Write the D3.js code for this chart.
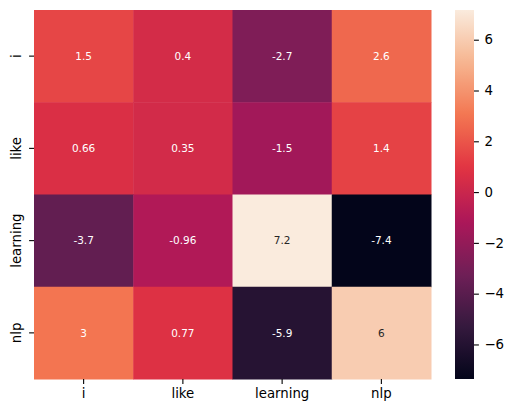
<!DOCTYPE html>
<html>
<head>
<meta charset="utf-8">
<script src="https://cdn.jsdelivr.net/npm/d3@7"></script>
<style>
  body { margin: 0; background: #fff; }
  svg { display: block; font-family: "DejaVu Sans", sans-serif; }
</style>
</head>
<body>
<div id="chart"></div>
<script>
// row / column labels
var rows = ["i", "like", "learning", "nlp"];
var cols = ["i", "like", "learning", "nlp"];
// cell values, one array per row
var rowI = [1.52, 0.40, -2.7, 2.6];
var rowLike = [0.66, 0.35, -1.5, 1.4];
var rowLearning = [-3.7, -0.96, 7.17, -7.36];
var rowNlp = [3.0, 0.77, -5.9, 6.0];
var colorbarTicks = [-6, -4, -2, 0, 2, 4, 6];

// seaborn "rocket" key colours
var rocketStops = ["#03051a", "#35193e", "#701f57", "#ad1759", "#e13342", "#f37651", "#f6b48f", "#faebdd"];

var values = [rowI, rowLike, rowLearning, rowNlp];
var cells = [];
values.forEach(function (r, i) {
  r.forEach(function (v, j) {
    cells.push({ row: rows[i], col: cols[j], value: v });
  });
});

var width = 514, height = 413;
var plot = { left: 34, top: 10, right: 431, bottom: 379 };
var cbar = { left: 455, right: 474 };

var vmin = d3.min(cells, function (d) { return d.value; });
var vmax = d3.max(cells, function (d) { return d.value; });

var rocket = d3.scaleLinear()
  .domain(d3.range(rocketStops.length).map(function (i) { return i / (rocketStops.length - 1); }))
  .range(rocketStops)
  .interpolate(d3.interpolateRgb);
var norm = d3.scaleLinear().domain([vmin, vmax]).range([0, 1]).clamp(true);
var color = function (v) { return rocket(norm(v)); };

var x = d3.scaleBand().domain(cols).range([plot.left, plot.right]);
var y = d3.scaleBand().domain(rows).range([plot.top, plot.bottom]);
var cy = d3.scaleLinear().domain([vmin, vmax]).range([plot.bottom, plot.top]);

var fmt = d3.formatLocale({ decimal: ".", thousands: ",", grouping: [3], currency: ["", ""], minus: "-" }).format(".2~g");

var luminance = function (c) {
  var rgb = d3.rgb(c);
  var lin = [rgb.r, rgb.g, rgb.b].map(function (u) {
    u = u / 255;
    return u <= 0.03928 ? u / 12.92 : Math.pow((u + 0.055) / 1.055, 2.4);
  });
  return 0.2126 * lin[0] + 0.7152 * lin[1] + 0.0722 * lin[2];
};

var svg = d3.select("#chart").append("svg")
  .attr("width", width)
  .attr("height", height);

// cells
svg.append("g")
  .selectAll("rect")
  .data(cells)
  .enter()
  .append("rect")
  .attr("x", function (d) { return x(d.col); })
  .attr("y", function (d) { return y(d.row); })
  .attr("width", x.bandwidth() + 0.5)
  .attr("height", y.bandwidth() + 0.5)
  .attr("fill", function (d) { return color(d.value); });

// annotations
svg.append("g")
  .selectAll("text")
  .data(cells)
  .enter()
  .append("text")
  .attr("x", function (d) { return x(d.col) + x.bandwidth() / 2; })
  .attr("y", function (d) { return y(d.row) + y.bandwidth() / 2; })
  .attr("dy", "0.36em")
  .attr("text-anchor", "middle")
  .attr("font-size", "10.5px")
  .attr("fill", function (d) { return luminance(color(d.value)) > 0.408 ? "#262626" : "#ffffff"; })
  .text(function (d) { return fmt(d.value); });

// x axis
var xAxis = svg.append("g")
  .attr("transform", "translate(0," + plot.bottom + ")")
  .call(d3.axisBottom(x).tickSize(4.9).tickPadding(4.5));
xAxis.select(".domain").remove();
xAxis.selectAll("line").attr("stroke", "#000").attr("stroke-width", 1.1);
xAxis.selectAll("text")
  .attr("font-family", "DejaVu Sans")
  .attr("font-size", "13.3px")
  .attr("fill", "#000");

// y axis (labels rotated like seaborn)
var yAxis = svg.append("g")
  .attr("transform", "translate(" + plot.left + ",0)")
  .call(d3.axisLeft(y).tickSize(4.9));
yAxis.select(".domain").remove();
yAxis.selectAll("line").attr("stroke", "#000").attr("stroke-width", 1.1);
yAxis.selectAll("text")
  .attr("x", null)
  .attr("dy", null)
  .attr("text-anchor", "middle")
  .attr("transform", "translate(-13,0) rotate(-90)")
  .attr("font-family", "DejaVu Sans")
  .attr("font-size", "13.3px")
  .attr("fill", "#000");

// colorbar
var grad = svg.append("defs").append("linearGradient")
  .attr("id", "cbar-grad")
  .attr("x1", 0).attr("y1", 1).attr("x2", 0).attr("y2", 0);
grad.selectAll("stop")
  .data(d3.range(0, 1.0001, 0.02))
  .enter()
  .append("stop")
  .attr("offset", function (t) { return t; })
  .attr("stop-color", function (t) { return rocket(t); });

svg.append("rect")
  .attr("x", cbar.left)
  .attr("y", plot.top)
  .attr("width", cbar.right - cbar.left)
  .attr("height", plot.bottom - plot.top)
  .attr("fill", "url(#cbar-grad)");

var cAxis = svg.append("g")
  .attr("transform", "translate(" + cbar.right + ",0)")
  .call(d3.axisRight(cy).tickValues(colorbarTicks).tickSize(4.9).tickPadding(5.5).tickFormat(d3.format("d")));
cAxis.select(".domain").remove();
cAxis.selectAll("line").attr("stroke", "#000").attr("stroke-width", 1.1);
cAxis.selectAll("text")
  .attr("font-family", "DejaVu Sans")
  .attr("font-size", "13.3px")
  .attr("fill", "#000");
</script>
</body>
</html>
